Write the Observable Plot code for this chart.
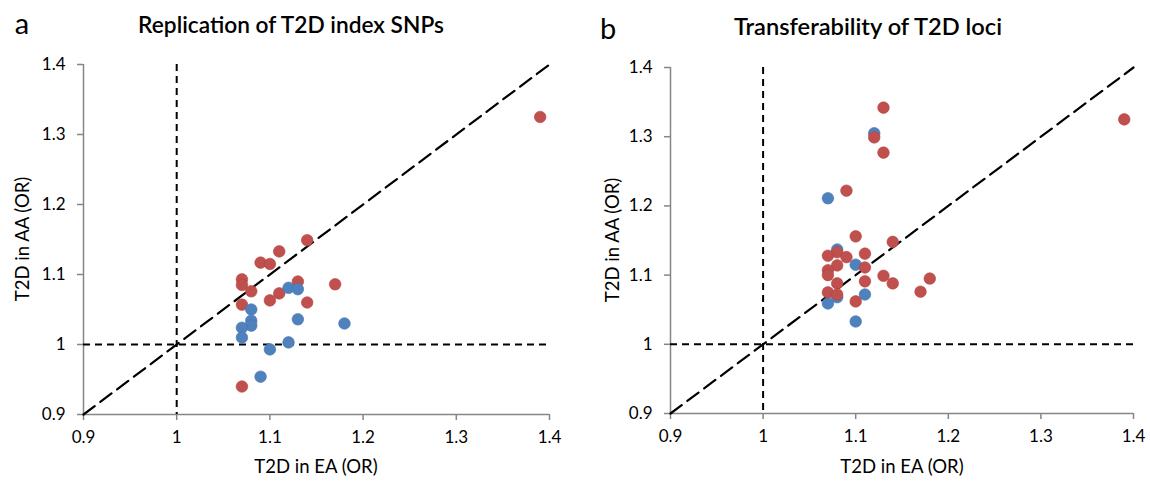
<!DOCTYPE html>
<html><head><meta charset="utf-8">
<script src="https://cdn.jsdelivr.net/npm/d3@7"></script>
<script src="https://cdn.jsdelivr.net/npm/@observablehq/plot@0.6"></script>
<style>
body{margin:0;background:#fff;}
#wrap{position:relative;width:1150px;height:481px;overflow:hidden;}
.panel{position:absolute;top:0;}
.lbl{position:absolute;white-space:nowrap;color:#000;line-height:1;transform:translate(-50%,-50%);}
</style></head><body><div id="wrap"></div>
<script>
// ---- data ----
const tickValues = [0.9, 1, 1.1, 1.2, 1.3, 1.4];
const tickLabels = ["0.9", "1", "1.1", "1.2", "1.3", "1.4"];
const axisDomain = [0.9, 1.4];
const refValue = 1;

const titles = ["Replication of T2D index SNPs", "Transferability of T2D loci"];
const panelLetters = ["a", "b"];
const xTitle = "T2D in EA (OR)";
const yTitle = "T2D in AA (OR)";

// Panel a
const aRedX = [1.14, 1.11, 1.09, 1.10, 1.07, 1.07, 1.08, 1.13, 1.17, 1.11, 1.10, 1.14, 1.07, 1.07, 1.39];
const aRedY = [1.149, 1.133, 1.117, 1.115, 1.093, 1.085, 1.076, 1.090, 1.086, 1.073, 1.063, 1.060, 1.057, 0.940, 1.325];
const aBlueX = [1.12, 1.13, 1.08, 1.08, 1.08, 1.07, 1.07, 1.13, 1.18, 1.12, 1.10, 1.09];
const aBlueY = [1.081, 1.079, 1.050, 1.034, 1.027, 1.024, 1.010, 1.036, 1.030, 1.003, 0.993, 0.954];

// Panel b
const bRedX = [1.13, 1.12, 1.13, 1.09, 1.10, 1.14, 1.08, 1.07, 1.09, 1.11, 1.11, 1.08, 1.07, 1.07, 1.13, 1.11, 1.14, 1.18, 1.17, 1.08, 1.07, 1.08, 1.10, 1.39];
const bRedY = [1.342, 1.299, 1.277, 1.222, 1.156, 1.148, 1.133, 1.128, 1.126, 1.131, 1.111, 1.114, 1.107, 1.100, 1.099, 1.091, 1.088, 1.095, 1.076, 1.088, 1.075, 1.072, 1.062, 1.325];
const bBlueX = [1.12, 1.07, 1.08, 1.10, 1.08, 1.07, 1.11, 1.10];
const bBlueY = [1.305, 1.211, 1.137, 1.115, 1.068, 1.059, 1.072, 1.033];

// ---- styling / layout ----
const RED = "#C0504D", BLUE = "#4F81BD", AXIS = "#868686";
const FONT = "Lato, 'Open Sans', sans-serif";

function pts(xs, ys) { return xs.map((x, i) => ({x, y: ys[i]})); }
const fmt = d => tickLabels[tickValues.indexOf(d)] ?? String(d);

function panel(cfg) {
  const diag = axisDomain.map(v => ({x: v, y: v}));
  const redMark = Plot.dot(pts(cfg.redX, cfg.redY), {x: "x", y: "y", r: 5.8, fill: RED, stroke: "#B3423F", strokeWidth: 0.6});
  const blueMark = Plot.dot(pts(cfg.blueX, cfg.blueY), {x: "x", y: "y", r: 5.8, fill: BLUE, stroke: "#4474AE", strokeWidth: 0.6});
  return Plot.plot({
    width: 575, height: 481,
    marginLeft: cfg.ml, marginRight: cfg.mr, marginTop: cfg.mt, marginBottom: cfg.mb,
    style: {fontFamily: FONT, fontSize: "17px", color: "#000", background: "transparent", overflow: "visible"},
    x: {domain: axisDomain},
    y: {domain: axisDomain},
    marks: [
      Plot.ruleX([axisDomain[0]], {stroke: AXIS, strokeWidth: 1.5}),
      Plot.ruleY([axisDomain[0]], {stroke: AXIS, strokeWidth: 1.5}),
      Plot.axisX(tickValues, {tickSize: 6, tickPadding: 10, tickFormat: fmt, stroke: AXIS, strokeWidth: 1.5, fill: "#000", label: null}),
      Plot.axisY(tickValues, {tickSize: 6, tickPadding: 12, tickFormat: fmt, stroke: AXIS, strokeWidth: 1.5, fill: "#000", label: null}),
      Plot.ruleX([refValue], {stroke: "#000", strokeWidth: 2, strokeDasharray: "7,5"}),
      Plot.ruleY([refValue], {stroke: "#000", strokeWidth: 2, strokeDasharray: "7,5"}),
      Plot.line(diag, {x: "x", y: "y", stroke: "#000", strokeWidth: 2.2, strokeDasharray: "14,7"}),
      ...(cfg.blueFirst ? [blueMark, redMark] : [redMark, blueMark])
    ]
  });
}

const wrap = document.getElementById("wrap");
const panels = [
  {left: 0, ml: 83, mr: 26, mt: 64, mb: 67, redX: aRedX, redY: aRedY, blueX: aBlueX, blueY: aBlueY, blueFirst: false,
   title: [291, 25, 307], letter: [22, 22], xt: [316, 466], yt: [22, 239]},
  {left: 575, ml: 95, mr: 17, mt: 67, mb: 68, redX: bRedX, redY: bRedY, blueX: bBlueX, blueY: bBlueY, blueFirst: true,
   title: [868, 27, 270], letter: [608, 27], xt: [902, 466], yt: [612, 240]}
];

const ctx = document.createElement("canvas").getContext("2d");
function fit(text, weight, target) {
  ctx.font = `${weight} 100px ${FONT}`;
  return 100 * target / ctx.measureText(text).width;
}
function label(text, x, y, size, weight, rotate) {
  const d = document.createElement("div");
  d.className = "lbl";
  d.textContent = text;
  d.style.left = x + "px";
  d.style.top = y + "px";
  d.style.fontFamily = FONT;
  d.style.fontSize = size + "px";
  d.style.fontWeight = weight;
  if (rotate) d.style.transform = "translate(-50%,-50%) rotate(-90deg)";
  wrap.appendChild(d);
}

const axisTitleSize = fit(xTitle, 400, 124);
panels.forEach((p, i) => {
  const chart = panel(p);
  chart.classList.add("panel");
  chart.style.left = p.left + "px";
  wrap.appendChild(chart);
  label(titles[i], p.title[0], p.title[1], fit(titles[i], 600, p.title[2]), 600, false);
  label(panelLetters[i], p.letter[0], p.letter[1], 29, 400, false);
  label(xTitle, p.xt[0], p.xt[1], axisTitleSize, 400, false);
  label(yTitle, p.yt[0], p.yt[1], axisTitleSize, 400, true);
});
</script>
</body></html>
